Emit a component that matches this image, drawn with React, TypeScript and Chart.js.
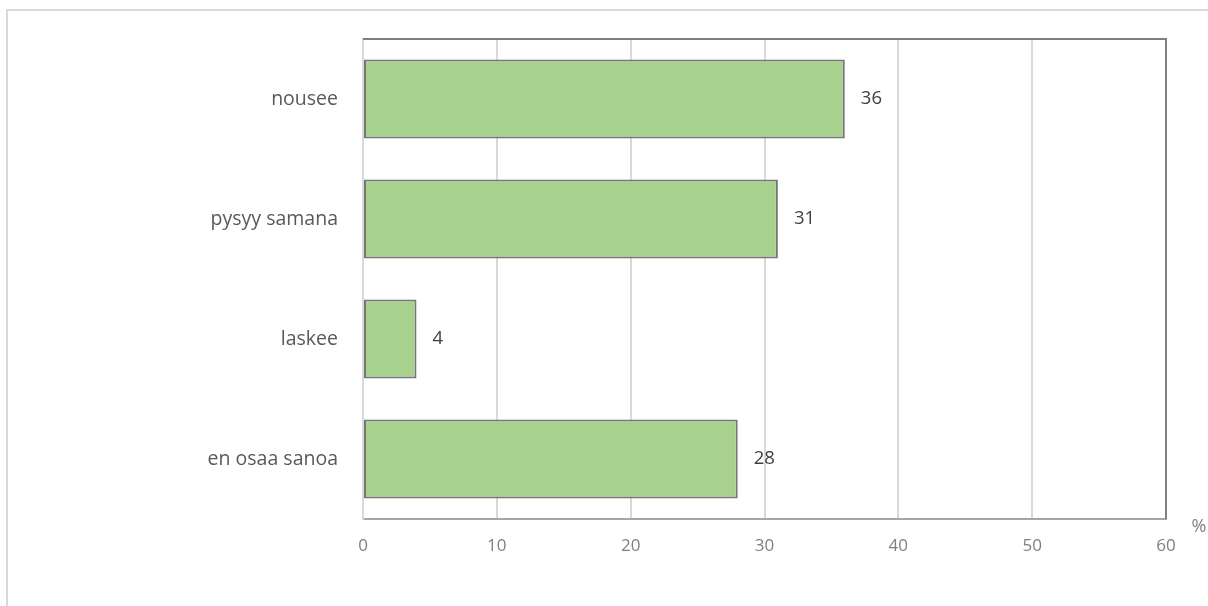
import React, { useEffect, useRef } from "react";
import { Chart, registerables } from "chart.js";

Chart.register(...registerables);

const categories = ["nousee", "pysyy samana", "laskee", "en osaa sanoa"];
const values = [36, 31, 4, 28];
const xTicks = [0, 10, 20, 30, 40, 50, 60];
const unitLabel = "%";

const FONT = "'Open Sans', 'Noto Sans', sans-serif";

// Frame, plot border, value labels and unit label
const decorations = {
  id: "decorations",
  beforeDraw(chart: any) {
    const { ctx } = chart;
    ctx.save();
    ctx.fillStyle = "#ffffff";
    ctx.fillRect(0, 0, chart.width, chart.height);
    ctx.strokeStyle = "#d9d9d9";
    ctx.lineWidth = 2;
    ctx.beginPath();
    ctx.moveTo(7, chart.height);
    ctx.lineTo(7, 10);
    ctx.lineTo(chart.width, 10);
    ctx.stroke();
    ctx.restore();
  },
  afterDatasetsDraw(chart: any) {
    const { ctx, chartArea } = chart;
    ctx.save();
    ctx.strokeStyle = "#808080";
    ctx.lineWidth = 2;
    ctx.beginPath();
    ctx.moveTo(chartArea.left, chartArea.top);
    ctx.lineTo(chartArea.right, chartArea.top);
    ctx.lineTo(chartArea.right, chartArea.bottom);
    ctx.stroke();

    const meta = chart.getDatasetMeta(0);
    ctx.fillStyle = "#404040";
    ctx.font = `18.5px ${FONT}`;
    ctx.textAlign = "left";
    ctx.textBaseline = "middle";
    meta.data.forEach((bar: any, i: number) => {
      ctx.fillText(String(values[i]), bar.x + 16, bar.y);
    });

    ctx.fillStyle = "#7f7f7f";
    ctx.font = `18px ${FONT}`;
    ctx.textAlign = "center";
    ctx.fillText(unitLabel, chartArea.right + 33, chartArea.bottom + 8);
    ctx.restore();
  },
};

export default function App() {
  const ref = useRef<HTMLCanvasElement | null>(null);

  useEffect(() => {
    if (!ref.current) return;
    const chart = new Chart(ref.current, {
      type: "bar",
      data: {
        labels: categories,
        datasets: [
          {
            data: values,
            backgroundColor: "#a9d18e",
            borderColor: "#767676",
            borderWidth: 2,
            borderSkipped: false,
            categoryPercentage: 0.66,
            barPercentage: 1,
          },
        ],
      },
      options: {
        indexAxis: "y",
        responsive: false,
        animation: false,
        layout: { padding: { top: 39, right: 42, left: 0, bottom: 0 } },
        plugins: { legend: { display: false }, tooltip: { enabled: false } },
        scales: {
          x: {
            min: 0,
            max: 60,
            afterBuildTicks(scale: any) {
              scale.ticks = xTicks.map((v) => ({ value: v }));
            },
            afterFit(scale: any) {
              scale.height = 87;
            },
            grid: { color: "#d9d9d9", lineWidth: 2, drawTicks: false },
            border: { color: "#a6a6a6", width: 2 },
            ticks: {
              color: "#7f7f7f",
              font: { family: FONT, size: 17 },
              padding: 17,
            },
          },
          y: {
            afterFit(scale: any) {
              scale.width = 363;
            },
            grid: { display: false, drawTicks: false },
            border: { color: "#d9d9d9", width: 2 },
            ticks: {
              color: "#595959",
              font: { family: FONT, size: 19.5 },
              padding: 25,
            },
          },
        },
      },
      plugins: [decorations],
    });
    return () => chart.destroy();
  }, []);

  return (
    <div style={{ position: "absolute", left: 0, top: 0, width: 1208, height: 606 }}>
      <canvas ref={ref} width={1208} height={606} />
    </div>
  );
}
